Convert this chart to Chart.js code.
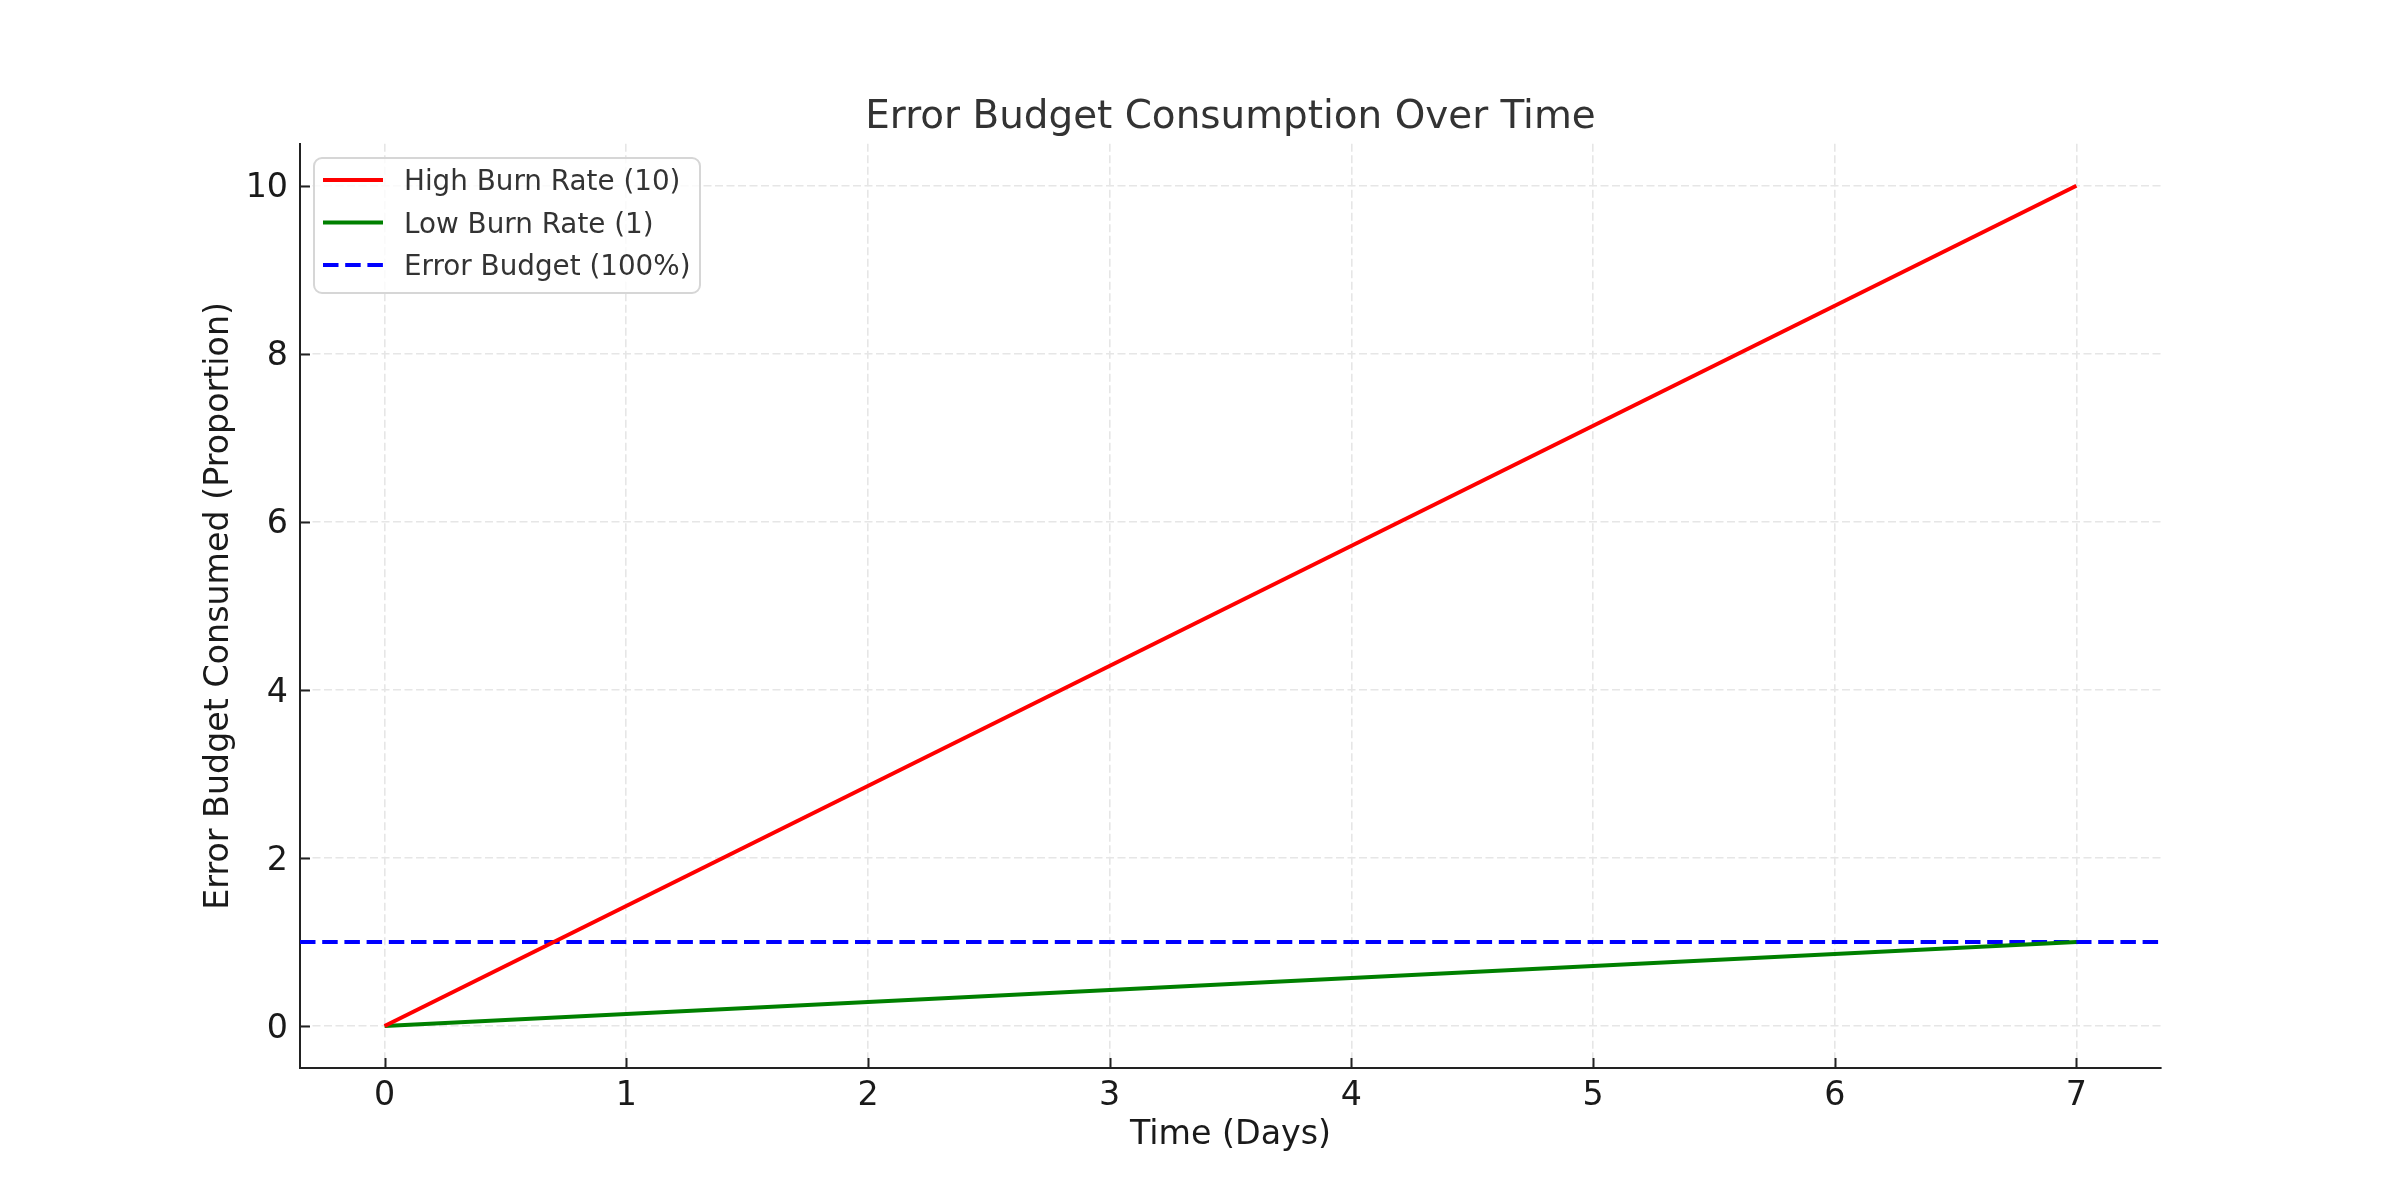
<!DOCTYPE html>
<html>
<head>
<meta charset="utf-8">
<script src="https://cdn.jsdelivr.net/npm/chart.js@4.4.1/dist/chart.umd.min.js"></script>
<style>
  html, body { margin: 0; padding: 0; background: #fff; }
  #wrap { width: 2400px; height: 1200px; }
</style>
</head>
<body>
<div id="wrap"><canvas id="chart" width="2400" height="1200"></canvas></div>
<script>
// data
var days = [0, 7];
var highBurn = [0, 10];
var lowBurn = [0, 1];
var budgetLevel = 1;
var xTicks = [0, 1, 2, 3, 4, 5, 6, 7];
var yTicks = [0, 2, 4, 6, 8, 10];
var xMin = -0.35, xMax = 7.35;
var yMin = -0.5, yMax = 10.5;

var FONT = "'DejaVu Sans', sans-serif";

function pts(xs, ys) {
  var out = [];
  for (var i = 0; i < xs.length; i++) out.push({x: xs[i], y: ys[i]});
  return out;
}

// matplotlib style inward tick marks
var tickMarks = {
  id: 'tickMarks',
  afterDatasetsDraw: function (chart) {
    var ctx = chart.ctx, a = chart.chartArea;
    var xs = chart.scales.x, ys = chart.scales.y;
    ctx.save();
    ctx.strokeStyle = '#222222';
    ctx.lineWidth = 2;
    ctx.beginPath();
    xTicks.forEach(function (v) {
      var px = Math.round(xs.getPixelForValue(v)) + 0.5;
      ctx.moveTo(px, a.bottom);
      ctx.lineTo(px, a.bottom - 10);
    });
    yTicks.forEach(function (v) {
      var py = Math.round(ys.getPixelForValue(v)) + 0.5;
      ctx.moveTo(a.left, py);
      ctx.lineTo(a.left + 10, py);
    });
    ctx.stroke();
    ctx.restore();
  }
};

// legend box in the upper left of the plot
var boxLegend = {
  id: 'boxLegend',
  afterDatasetsDraw: function (chart) {
    var ctx = chart.ctx;
    var x0 = 314, y0 = 158, w = 386, h = 135, r = 8;
    ctx.save();
    ctx.beginPath();
    ctx.moveTo(x0 + r, y0);
    ctx.arcTo(x0 + w, y0, x0 + w, y0 + h, r);
    ctx.arcTo(x0 + w, y0 + h, x0, y0 + h, r);
    ctx.arcTo(x0, y0 + h, x0, y0, r);
    ctx.arcTo(x0, y0, x0 + w, y0, r);
    ctx.closePath();
    ctx.fillStyle = 'rgba(255,255,255,0.8)';
    ctx.fill();
    ctx.strokeStyle = '#d6d6d6';
    ctx.lineWidth = 2;
    ctx.stroke();

    ctx.font = '27.8px ' + FONT;
    ctx.textBaseline = 'middle';
    ctx.fillStyle = '#333333';
    chart.data.datasets.forEach(function (ds, i) {
      var cy = 180 + i * 42.5;
      ctx.beginPath();
      ctx.strokeStyle = ds.borderColor;
      ctx.lineWidth = ds.borderWidth;
      ctx.setLineDash(ds.borderDash || []);
      ctx.moveTo(323, cy);
      ctx.lineTo(383, cy);
      ctx.stroke();
      ctx.setLineDash([]);
      ctx.fillText(ds.label, 404, cy + 3);
    });
    ctx.restore();
  }
};

new Chart(document.getElementById('chart'), {
  type: 'line',
  data: {
    datasets: [
      {label: 'High Burn Rate (10)', data: pts(days, highBurn), borderColor: '#ff0000', borderWidth: 4},
      {label: 'Low Burn Rate (1)', data: pts(days, lowBurn), borderColor: '#008000', borderWidth: 4},
      {label: 'Error Budget (100%)', data: pts([xMin, xMax], [budgetLevel, budgetLevel]),
       borderColor: '#0000ff', borderWidth: 4, borderDash: [15.5, 6.7]}
    ]
  },
  options: {
    responsive: false,
    animation: false,
    devicePixelRatio: 1,
    elements: {point: {radius: 0}, line: {tension: 0, borderCapStyle: 'butt'}},
    layout: {padding: {left: 0, right: 239, top: 0, bottom: 0}},
    plugins: {
      legend: {display: false},
      tooltip: {enabled: false},
      title: {
        display: true,
        fullSize: false,
        text: 'Error Budget Consumption Over Time',
        color: '#333333',
        font: {family: FONT, size: 38.9, weight: 'normal'},
        padding: {top: 95, bottom: 2}
      }
    },
    scales: {
      x: {
        type: 'linear',
        min: xMin,
        max: xMax,
        afterBuildTicks: function (s) { s.ticks = xTicks.map(function (v) { return {value: v}; }); },
        afterFit: function (s) { s.height = 132; },
        grid: {color: '#e6e6e6', lineWidth: 1.6, drawTicks: false},
        border: {display: true, color: '#222222', width: 2, dash: [8, 3.5]},
        ticks: {color: '#1a1a1a', padding: 8, font: {family: FONT, size: 33.3}, maxRotation: 0},
        title: {display: true, text: 'Time (Days)', color: '#1a1a1a',
                font: {family: FONT, size: 33.3}, padding: {top: 0, bottom: 45}}
      },
      y: {
        type: 'linear',
        min: yMin,
        max: yMax,
        afterBuildTicks: function (s) { s.ticks = yTicks.map(function (v) { return {value: v}; }); },
        afterFit: function (s) { s.width = 300; },
        grid: {color: '#e6e6e6', lineWidth: 1.6, drawTicks: false},
        border: {display: true, color: '#222222', width: 2, dash: [8, 3.5]},
        ticks: {color: '#1a1a1a', padding: 12, labelOffset: 3, font: {family: FONT, size: 33.3}},
        title: {display: true, text: 'Error Budget Consumed (Proportion)', color: '#1a1a1a',
                font: {family: FONT, size: 33.3}, padding: {top: 199, bottom: 0}}
      }
    }
  },
  plugins: [tickMarks, boxLegend]
});
</script>
</body>
</html>
